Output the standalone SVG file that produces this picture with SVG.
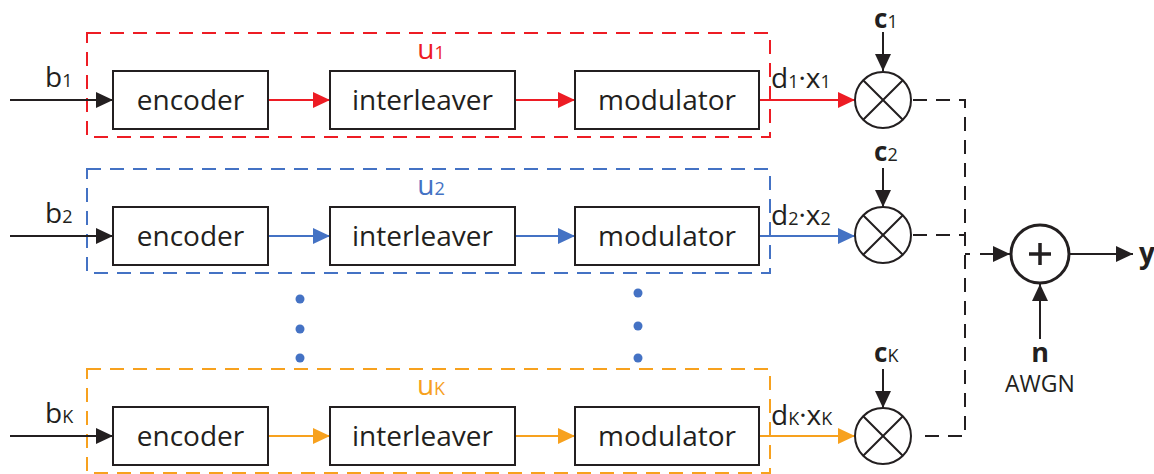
<svg xmlns="http://www.w3.org/2000/svg" width="1154" height="474" viewBox="0 0 1154 474">
<style>
text{font-family:"Open Sans","Noto Sans",sans-serif;fill:#231F20}
.lbl{font-size:28px}
.sub{font-size:18px}
.cl{font-size:26px;font-weight:bold}
.box{fill:#fff;stroke:#231F20;stroke-width:2}
.c{text-anchor:middle}
.b{font-weight:bold}
.ln{fill:none;stroke-width:2}
.k{stroke:#231F20}
.red{stroke:#ED1C24}
.blue{stroke:#4472C4}
.org{stroke:#F7A11E}
.grp{fill:none;stroke-width:2;stroke-dasharray:14 9}
.dsh{fill:none;stroke:#231F20;stroke-width:2;stroke-dasharray:14 9}
.circ{fill:#fff;stroke:#231F20;stroke-width:2}
.dot{fill:#4472C4}
</style>
<defs>
<marker id="ak" viewBox="0 0 17 16" refX="17" refY="8" markerWidth="17" markerHeight="16" markerUnits="userSpaceOnUse" orient="auto"><path d="M0,0L17,8L0,16z" fill="#231F20"/></marker>
<marker id="ar" viewBox="0 0 17 16" refX="17" refY="8" markerWidth="17" markerHeight="16" markerUnits="userSpaceOnUse" orient="auto"><path d="M0,0L17,8L0,16z" fill="#ED1C24"/></marker>
<marker id="ab" viewBox="0 0 17 16" refX="17" refY="8" markerWidth="17" markerHeight="16" markerUnits="userSpaceOnUse" orient="auto"><path d="M0,0L17,8L0,16z" fill="#4472C4"/></marker>
<marker id="ao" viewBox="0 0 17 16" refX="17" refY="8" markerWidth="17" markerHeight="16" markerUnits="userSpaceOnUse" orient="auto"><path d="M0,0L17,8L0,16z" fill="#F7A11E"/></marker>
</defs>

<g id="user1-group">
<rect class="grp red" x="87" y="33" width="683" height="104"/>
<text class="lbl c" x="431" y="59" style="fill:#ED1C24">u<tspan class="sub">1</tspan></text>
</g>
<g id="user2-group">
<rect class="grp blue" x="87" y="169" width="683" height="104"/>
<text class="lbl c" x="431" y="195" style="fill:#4472C4">u<tspan class="sub">2</tspan></text>
</g>
<g id="userK-group">
<rect class="grp org" x="87" y="369" width="683" height="104"/>
<text class="lbl c" x="431" y="395" style="fill:#F7A11E">u<tspan class="sub">K</tspan></text>
</g>

<g id="connectors">
<path class="ln k" d="M10,100H113" marker-end="url(#ak)"/>
<path class="ln k" d="M10,236H113" marker-end="url(#ak)"/>
<path class="ln k" d="M10,436H113" marker-end="url(#ak)"/>
<path class="ln red" d="M268,100H330" marker-end="url(#ar)"/>
<path class="ln red" d="M515,100H575" marker-end="url(#ar)"/>
<path class="ln red" d="M759,100H855" marker-end="url(#ar)"/>
<path class="ln blue" d="M268,236H330" marker-end="url(#ab)"/>
<path class="ln blue" d="M515,236H575" marker-end="url(#ab)"/>
<path class="ln blue" d="M759,236H855" marker-end="url(#ab)"/>
<path class="ln org" d="M268,436H330" marker-end="url(#ao)"/>
<path class="ln org" d="M515,436H575" marker-end="url(#ao)"/>
<path class="ln org" d="M759,436H855" marker-end="url(#ao)"/>
<path class="ln k" d="M883,32V71" marker-end="url(#ak)"/>
<path class="ln k" d="M883,168V207" marker-end="url(#ak)"/>
<path class="ln k" d="M883,369V408" marker-end="url(#ak)"/>
<path class="dsh" d="M913,100H965V436H920"/>
<path class="dsh" d="M913,235H965"/>
<path class="ln k" d="M965,254H970"/>
<path class="ln k" d="M980,254H1010" marker-end="url(#ak)"/>
<path class="ln k" d="M1040,339V284" marker-end="url(#ak)"/>
<path class="ln k" d="M1070,254H1133" marker-end="url(#ak)"/>
</g>

<g id="b1-label"><text class="lbl" x="45" y="87">b<tspan class="sub">1</tspan></text></g>
<g id="b2-label"><text class="lbl" x="45" y="223">b<tspan class="sub">2</tspan></text></g>
<g id="bK-label"><text class="lbl" x="45" y="423">b<tspan class="sub">K</tspan></text></g>

<g id="encoder1"><rect class="box" x="113" y="71" width="155" height="58"/><text class="lbl c" x="190.5" y="110">encoder</text></g>
<g id="interleaver1"><rect class="box" x="330" y="71" width="185" height="58"/><text class="lbl c" x="422.5" y="110">interleaver</text></g>
<g id="modulator1"><rect class="box" x="575" y="71" width="184" height="58"/><text class="lbl c" x="667" y="110">modulator</text></g>

<g id="encoder2"><rect class="box" x="113" y="207" width="155" height="58"/><text class="lbl c" x="190.5" y="246">encoder</text></g>
<g id="interleaver2"><rect class="box" x="330" y="207" width="185" height="58"/><text class="lbl c" x="422.5" y="246">interleaver</text></g>
<g id="modulator2"><rect class="box" x="575" y="207" width="184" height="58"/><text class="lbl c" x="667" y="246">modulator</text></g>

<g id="encoderK"><rect class="box" x="113" y="407" width="155" height="58"/><text class="lbl c" x="190.5" y="446">encoder</text></g>
<g id="interleaverK"><rect class="box" x="330" y="407" width="185" height="58"/><text class="lbl c" x="422.5" y="446">interleaver</text></g>
<g id="modulatorK"><rect class="box" x="575" y="407" width="184" height="58"/><text class="lbl c" x="667" y="446">modulator</text></g>

<g id="dots">
<circle class="dot" cx="300" cy="299" r="4.5"/><circle class="dot" cx="300" cy="329" r="4.5"/><circle class="dot" cx="300" cy="358" r="4.5"/>
<circle class="dot" cx="638" cy="293" r="4.5"/><circle class="dot" cx="638" cy="326" r="4.5"/><circle class="dot" cx="638" cy="358" r="4.5"/>
</g>

<g id="dx1-label"><text class="lbl" x="771" y="88">d<tspan class="sub">1</tspan>·x<tspan class="sub">1</tspan></text></g>
<g id="dx2-label"><text class="lbl" x="771" y="225">d<tspan class="sub">2</tspan>·x<tspan class="sub">2</tspan></text></g>
<g id="dxK-label"><text class="lbl" x="771" y="425">d<tspan class="sub">K</tspan>·x<tspan class="sub">K</tspan></text></g>

<g id="mult1"><circle class="circ" cx="883" cy="100" r="28"/><path class="ln k" d="M863.2,80.2L902.8,119.8M902.8,80.2L863.2,119.8"/><text class="cl" x="874" y="28">c<tspan class="sub" font-weight="normal">1</tspan></text></g>
<g id="mult2"><circle class="circ" cx="883" cy="235" r="28"/><path class="ln k" d="M863.2,215.2L902.8,254.8M902.8,215.2L863.2,254.8"/><text class="cl" x="874" y="161">c<tspan class="sub" font-weight="normal">2</tspan></text></g>
<g id="multK"><circle class="circ" cx="883" cy="436" r="28"/><path class="ln k" d="M863.2,416.2L902.8,455.8M902.8,416.2L863.2,455.8"/><text class="cl" x="874" y="362">c<tspan class="sub" font-weight="normal">K</tspan></text></g>

<g id="adder"><circle cx="1040" cy="254" r="29" fill="#fff" stroke="#231F20" stroke-width="3"/><path d="M1029,254H1051M1040,243V265" stroke="#231F20" stroke-width="3.5"/></g>
<g id="noise"><text class="b c" font-size="27" x="1040" y="362">n</text><text class="c" x="1040" y="392" font-size="23">AWGN</text></g>
<g id="output"><text class="lbl b" x="1139" y="263">y</text></g>
</svg>
